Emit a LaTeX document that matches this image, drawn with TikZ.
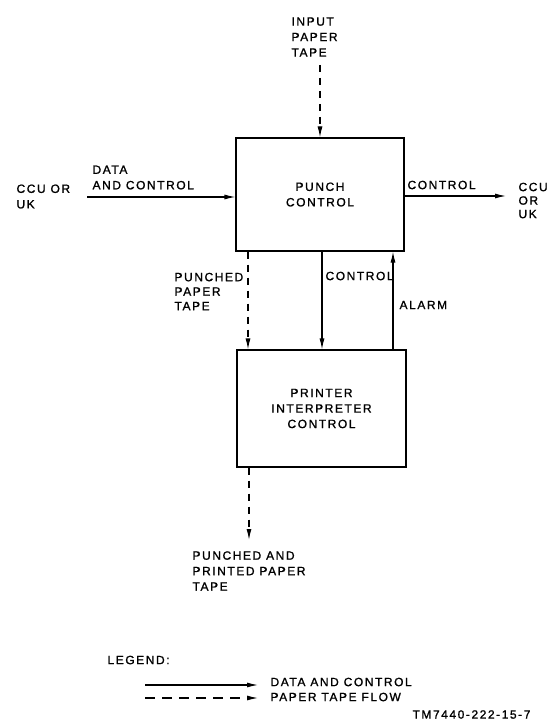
\documentclass[tikz,border=0pt]{standalone}
\usepackage{fontspec}
\setmainfont{Liberation Sans}[LetterSpace=13, FakeBold=1.2]
\usetikzlibrary{positioning,arrows.meta,calc}
\begin{document}
\begin{tikzpicture}[x=1pt, y=-1pt, line width=1.1pt, >={Latex[length=11pt,width=5pt]},
  font=\fontsize{12}{15.5}\selectfont,
  blk/.style={draw, minimum width=168pt, minimum height=113pt, inner sep=0pt, align=center},
  lbl/.style={anchor=west, inner sep=0pt, align=left},
  tape/.style={dash pattern=on 7pt off 6pt}]
\useasboundingbox (0,0) rectangle (552,722);
% blocks
\node[blk] (punch) at (320,194.5) {PUNCH\\CONTROL};
\node[blk, minimum width=169pt, minimum height=117pt] (prt) at (321.5,408.5) {PRINTER\\INTERPRETER\\CONTROL};
% free ends
\coordinate (tin) at (320,65);
\coordinate (ccuL) at (87,197);
\coordinate (ccuR) at (506,196);
\coordinate (tout) at (249,540);
\coordinate (xt) at (248,0); \coordinate (xc) at (322,0); \coordinate (xa) at (393,0);
% labels
\node[lbl] (tinl) at (291,37) {INPUT\\PAPER\\TAPE};
\node[lbl] (dcl) at (92,177.5) {DATA\\AND CONTROL};
\node[lbl] (srcl) at (16,196.5) {CCU OR\\UK};
\node[lbl] (ctll) at (407,185) {CONTROL};
\node[lbl, font=\fontsize{12}{13.5}\selectfont] (dstl) at (518,200.5) {CCU\\OR\\UK};
\node[lbl, font=\fontsize{12}{14.5}\selectfont] (ptl) at (174,291.5) {PUNCHED\\PAPER\\TAPE};
\node[lbl] (ctl2) at (325,276) {CONTROL};
\node[lbl] (alml) at (399,305) {ALARM};
\node[lbl] (toutl) at (192,571) {PUNCHED AND\\PRINTED PAPER\\TAPE};
% connectors
\draw[->, tape] (tin) -- (punch.north);
\draw[->] (ccuL) -- (ccuL -| punch.west); \draw[->] (ccuR -| punch.east) -- (ccuR);
\draw[->, tape] (xt |- punch.south) -- (xt |- prt.north);
\draw[->] (xc |- punch.south) -- (xc |- prt.north);
\draw[->] (xa |- prt.north) -- (xa |- punch.south);
\draw[->, tape] (tout |- prt.south) -- (tout);
% legend
\node[lbl] (leg) at (107,660) {LEGEND:};
\coordinate (l1a) at (145,685); \coordinate (l1b) at (258,685);
\coordinate (l2a) at (145,698); \coordinate (l2b) at (258,698);
\draw[->] (l1a) -- (l1b); \draw[->, dash pattern=on 10pt off 7pt] (l2a) -- (l2b);
\node[lbl] (leg1) at (270,682) {DATA AND CONTROL};
\node[lbl] (leg2) at (270,697) {PAPER TAPE FLOW};
\node[lbl] (fig) at (412,714.5) {TM7440-222-15-7};
\end{tikzpicture}
\end{document}
